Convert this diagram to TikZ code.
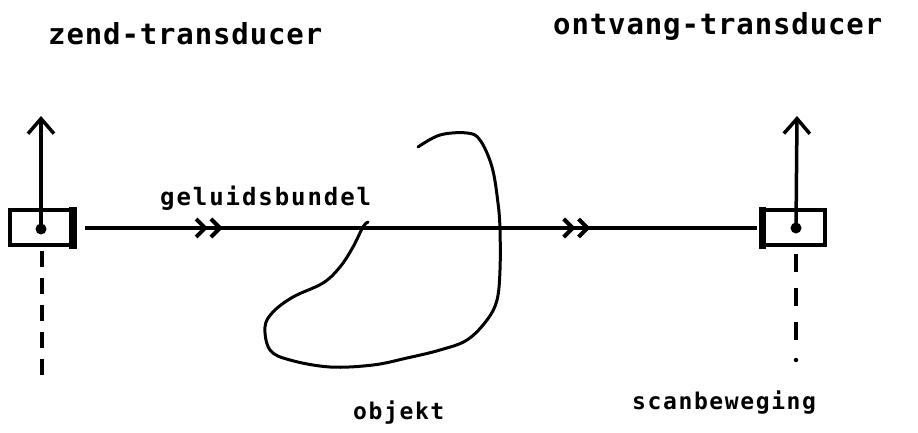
\documentclass[tikz,border=0pt]{standalone}
\usepackage{fontspec}
\newfontfamily\dotfont{DejaVu Sans Mono}
\usetikzlibrary{arrows.meta,decorations.markings,calc}

\tikzset{
  lbl/.style={anchor=base west, inner sep=0pt},
  bigtxt/.style={lbl, font=\dotfont\bfseries\fontsize{29}{29}\selectfont\addfontfeature{LetterSpace=3}},
  midtxt/.style={lbl, font=\dotfont\bfseries\fontsize{24}{24}\selectfont\addfontfeature{LetterSpace=8}},
  smalltxt/.style={lbl, font=\dotfont\bfseries\fontsize{23}{23}\selectfont\addfontfeature{LetterSpace=7}},
  transbox/.style={draw, line width=3.5pt, minimum width=63pt, minimum height=35pt, inner sep=0pt},
  beam/.style={line width=3.5pt},
  scanarrow/.style={line width=3.5pt, -{Straight Barb[length=15pt,width=26pt,line width=3.5pt]}},
  scanpath/.style={line width=3.5pt, dash pattern=on 16pt off 11pt},
  scanpathR/.style={line width=3.5pt, dash pattern=on 18pt off 16pt},
  chevrons/.style={decoration={markings,
      mark=at position #1 with {\arrow{Straight Barb[length=9pt,width=18pt,line width=4pt,sep=1pt] Straight Barb[length=9pt,width=18pt,line width=4pt]}}},
    postaction=decorate},
  blob/.style={line width=3pt, line cap=round, line join=round}
}

\begin{document}
\begin{tikzpicture}[x=1pt,y=-1pt]
\useasboundingbox (0,0) rectangle (918,433);

% transducers
\node[transbox] (L) at (41.5,227.5) {};
\fill ($(L.north east)+(1.75,-1.75)$) rectangle ($(L.south east)+(-6,1.75)$);
\node[transbox] (R) at (793.5,227.5) {};
\fill ($(R.north west)+(-1.75,-1.75)$) rectangle ($(R.south west)+(6,1.75)$);

\node[circle, fill, inner sep=0pt, minimum size=11pt] (Ld) at (41,229) {};
\node[circle, fill, inner sep=0pt, minimum size=11pt] (Rd) at (796,228) {};

% scan directions
\coordinate (Ltop) at (41,116);
\coordinate (Rtop) at (797,116);
\draw[scanarrow] (Ld.center) -- (Ltop);
\draw[scanarrow] (Rd.center) -- (Rtop);

\coordinate (Lbot) at (42,383);
\coordinate (Rbot) at (796,345);
\draw[scanpath] ($(L.south)+(0.5,4)$) -- (Lbot);
\draw[scanpathR] ($(R.south)+(2.5,7)$) -- (Rbot);
\node[circle, fill, inner sep=0pt, minimum size=4.5pt] (Rdot) at (796,360) {};

% sound beam
\coordinate (bL) at (85,228);
\coordinate (bR) at (757,228);
\draw[beam, chevrons=0.205] (bL) -- (bR);
\draw[beam, chevrons=0.752, draw=none] (bL) -- (bR);

% object outline
\draw[blob] plot[smooth, tension=0.6] coordinates {
  (418,147) (440,135) (467,133) (480,140) (492,167) (498,203) (500,230)
  (500,270) (497,300) (487,320) (467,340) (440,350) (407,358) (373,365)
  (330,367) (290,360) (270,350) (265,327) (273,312) (293,297) (323,283)
  (340,267) (353,247) (363,227) (368,222)};

% labels
\node[bigtxt] (tZ) at (48,45) {zend-transducer};
\node[bigtxt] (tO) at (553,35) {ontvang-transducer};
\node[midtxt] (tG) at (160,205) {geluidsbundel};
\node[smalltxt] (tB) at (353,419) {objekt};
\node[smalltxt] (tS) at (632,409) {scanbeweging};
\end{tikzpicture}
\end{document}
